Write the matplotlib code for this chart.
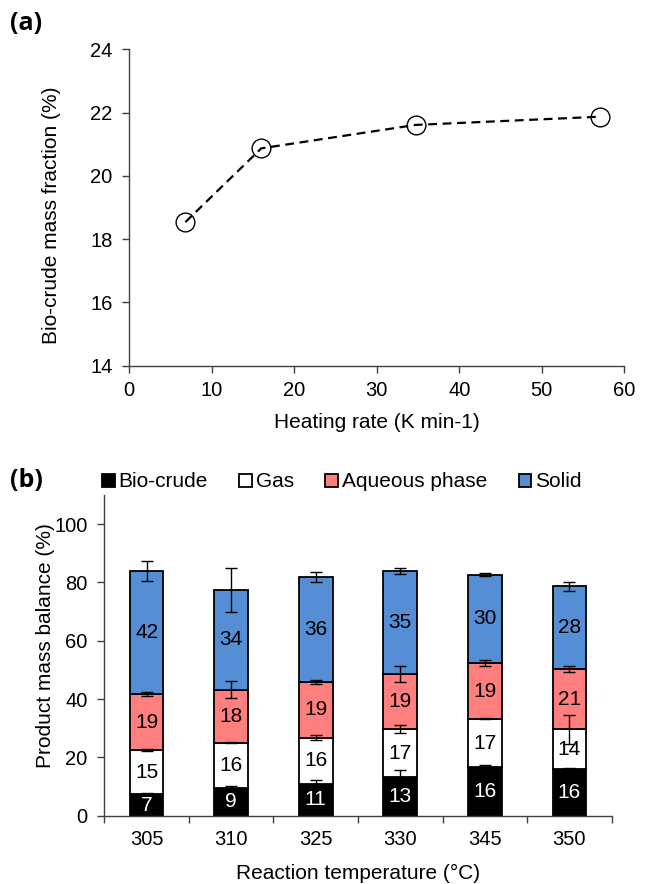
import matplotlib
matplotlib.use("Agg")
import matplotlib.pyplot as plt
import numpy as np
from matplotlib.patches import Patch

plt.rcParams['font.family'] = ['Liberation Sans', 'DejaVu Sans']

# ---- panel (a) data ----
heating_rate = [6.8, 16.0, 34.7, 57.1]
biocrude_frac = [18.54, 20.87, 21.61, 21.87]

# ---- panel (b) data ----
temperatures = ['305', '310', '325', '330', '345', '350']
bio_crude = [7.3, 9.4, 10.9, 13.2, 16.6, 15.9]
gas = [15.2, 15.6, 15.9, 16.5, 16.6, 13.7]
aqueous = [19.1, 18.2, 19.1, 18.9, 19.1, 20.6]
solid = [42.4, 34.2, 36.0, 35.4, 30.4, 28.5]
bio_crude_lbl = [7, 9, 11, 13, 16, 16]
gas_lbl = [15, 16, 16, 17, 17, 14]
aqueous_lbl = [19, 18, 19, 19, 19, 21]
solid_lbl = [42, 34, 36, 35, 30, 28]
bio_crude_err = [0.6, 0.7, 1.3, 2.4, 0.9, 0.4]
gas_err = [0.3, 0.2, 0.8, 1.4, 0.2, 4.9]
aqueous_err = [0.7, 3.0, 0.6, 2.6, 1.1, 1.0]
solid_err = [3.4, 7.5, 1.8, 1.1, 0.5, 1.6]

series_names = ['Bio-crude', 'Gas', 'Aqueous phase', 'Solid']
series_colors = ['#000000', '#ffffff', '#ff7f7f', '#558ed5']
label_colors = ['white', 'black', 'black', 'black']

FS = 14.5
W, H = 646, 884
fig = plt.figure(figsize=(W / 100, H / 100), dpi=100)

def ax_rect(l, t, r, b):
    return [l / W, 1 - b / H, (r - l) / W, (b - t) / H]

# ---------- (a) ----------
ax1 = fig.add_axes(ax_rect(129.3, 49.3, 624.3, 365.7))
ax1.plot(heating_rate, biocrude_frac, linestyle=(0, (4, 2.5)), color='black', lw=1.6,
         marker='o', markersize=13.5, markerfacecolor='none', markeredgecolor='black',
         markeredgewidth=1.0)
ax1.set_xlim(0, 60)
ax1.set_ylim(14, 24)
ax1.set_xticks(np.arange(0, 61, 10))
ax1.set_yticks(np.arange(14, 25, 2))
for s in ['top', 'right']:
    ax1.spines[s].set_visible(False)
for s in ['left', 'bottom']:
    ax1.spines[s].set_color('#404040')
    ax1.spines[s].set_linewidth(1.0)
ax1.tick_params(direction='out', length=5, width=1, color='#404040', labelsize=FS)
ax1.tick_params(axis='x', pad=6)
ax1.tick_params(axis='y', pad=7)
ax1.set_xlabel('Heating rate (K min-1)', fontsize=15, va='center')
ax1.xaxis.set_label_coords(0.5, -(423 - 365.7) / 316.4)
ax1.set_ylabel('Bio-crude mass fraction (%)', fontsize=15, va='center')
ax1.yaxis.set_label_coords((51 - 129.3) / 495, 0.476)

# ---------- (b) ----------
ax2 = fig.add_axes(ax_rect(104.3, 495, 611.7, 815.7))
x = np.arange(len(temperatures))
vals = [bio_crude, gas, aqueous, solid]
lbls = [bio_crude_lbl, gas_lbl, aqueous_lbl, solid_lbl]
errs = [bio_crude_err, gas_err, aqueous_err, solid_err]
bottom = np.zeros(len(x))
width = 0.4
for v, lb, er, c, lc, name in zip(vals, lbls, errs, series_colors, label_colors, series_names):
    v = np.array(v)
    ax2.bar(x, v, width, bottom=bottom, color=c, edgecolor='black', linewidth=1.3,
            label=name, zorder=2)
    top = bottom + v
    ax2.errorbar(x, top, yerr=er, fmt='none', ecolor='black', elinewidth=1.0,
                 capsize=4.5, capthick=1.0, zorder=3)
    for xi, bi, vi, li in zip(x, bottom, v, lb):
        ax2.text(xi, bi + vi / 2, str(li), ha='center', va='center', fontsize=15,
                 color=lc, zorder=4)
    bottom = top

ax2.set_xlim(-0.5, len(x) - 0.5)
ax2.set_ylim(0, 110)
ax2.set_yticks(np.arange(0, 101, 20))
ax2.set_xticks(x)
ax2.set_xticklabels(temperatures)
ax2.set_xticks(np.arange(-0.5, len(x), 1), minor=True)
ax2.tick_params(axis='x', which='major', length=0, labelsize=FS, pad=10)
ax2.tick_params(axis='x', which='minor', length=5, width=1, color='#404040', direction='out')
ax2.tick_params(axis='y', direction='out', length=5, width=1, color='#404040',
                labelsize=FS, pad=7)
for s in ['top', 'right']:
    ax2.spines[s].set_visible(False)
for s in ['left', 'bottom']:
    ax2.spines[s].set_color('#404040')
    ax2.spines[s].set_linewidth(1.0)
ax2.set_xlabel('Reaction temperature (\u00b0C)', fontsize=15, va='center')
ax2.xaxis.set_label_coords(0.5, -(873 - 815.7) / 320.7)
ax2.set_ylabel('Product mass balance (%)', fontsize=15, va='center')
ax2.yaxis.set_label_coords((46 - 104.3) / 507.4, 0.532)

handles = [Patch(facecolor=c, edgecolor='black', linewidth=1.3) for c in series_colors]
fig.legend(handles, series_names, loc='center left', bbox_to_anchor=(102 / W, 1 - 482 / H),
           ncol=4, frameon=False, fontsize=15, handlelength=0.6, handleheight=0.6,
           handletextpad=0.2, columnspacing=1.5, borderaxespad=0, borderpad=0)

fig.text(10 / W, 1 - 23 / H, '(a)', fontsize=18, fontweight='bold', va='center', ha='left',
         family=['Open Sans', 'DejaVu Sans'])
fig.text(10 / W, 1 - 481 / H, '(b)', fontsize=18, fontweight='bold', va='center', ha='left',
         family=['Open Sans', 'DejaVu Sans'])

fig.savefig('out.png', dpi=100)
